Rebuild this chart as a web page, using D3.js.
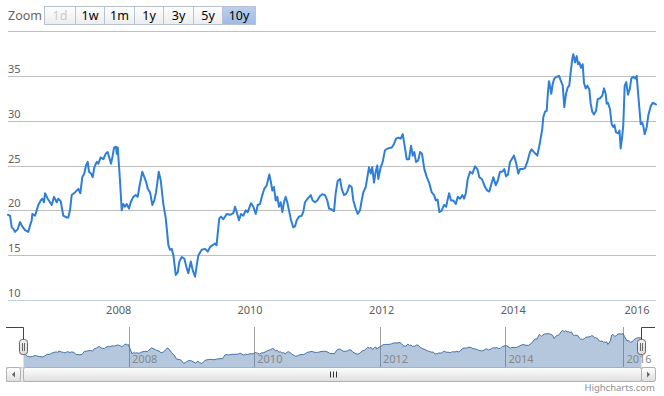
<!DOCTYPE html>
<html><head><meta charset="utf-8">
<script src="https://cdn.jsdelivr.net/npm/d3@7"></script>
<style>html,body{margin:0;padding:0;background:#fff;}svg{display:block;font-family:"Noto Sans",sans-serif;}</style>
</head><body><svg id="c" width="664" height="396"></svg>
<script>
// ---- data (decimal years, price) ----
const years = [
2006.316,2006.347,2006.373,2006.400,2006.423,2006.464,2006.499,2006.525,2006.575,2006.625,2006.651,2006.677,2006.686,2006.727,2006.753,2006.777,2006.814,2006.838,2006.864,2006.879,2006.920,2006.955,2006.981,
2007.016,2007.057,2007.081,2007.118,2007.157,2007.209,2007.233,2007.259,2007.285,2007.335,2007.361,2007.386,2007.416,2007.446,2007.477,2007.503,2007.529,2007.548,2007.579,2007.605,2007.629,2007.665,2007.690,2007.726,2007.766,2007.802,2007.833,2007.852,2007.883,2007.909,2007.929,2007.959,2007.970,2007.985,
2008.020,2008.046,2008.070,2008.096,2008.122,2008.157,2008.183,2008.222,2008.259,2008.289,2008.314,2008.359,2008.390,2008.420,2008.442,2008.477,2008.512,2008.542,2008.568,2008.588,2008.609,2008.640,2008.679,2008.716,2008.756,2008.781,2008.807,2008.832,2008.868,2008.899,2008.923,2008.960,2008.999,
2009.036,2009.060,2009.097,2009.127,2009.162,2009.188,2009.213,2009.264,2009.315,2009.356,2009.391,2009.426,2009.467,2009.490,2009.517,2009.532,2009.558,2009.593,2009.645,2009.695,2009.746,2009.772,2009.797,2009.832,2009.863,2009.898,2009.934,2009.965,
2010.015,2010.050,2010.087,2010.117,2010.152,2010.187,2010.217,2010.254,2010.293,2010.319,2010.339,2010.364,2010.390,2010.415,2010.440,2010.466,2010.491,2010.516,2010.542,2010.566,2010.592,2010.623,2010.658,2010.683,2010.709,2010.744,2010.785,2010.809,2010.835,2010.876,2010.922,2010.952,2010.987,
2011.022,2011.063,2011.098,2011.139,2011.174,2011.200,2011.241,2011.276,2011.301,2011.332,2011.367,2011.393,2011.428,2011.458,2011.484,2011.508,2011.544,2011.569,2011.605,2011.636,2011.670,2011.696,2011.721,2011.757,2011.787,2011.807,2011.833,2011.857,2011.883,2011.909,2011.933,2011.948,2011.985,
2012.015,2012.050,2012.091,2012.152,2012.187,2012.217,2012.252,2012.289,2012.319,2012.339,2012.380,2012.415,2012.445,2012.471,2012.495,2012.521,2012.556,2012.582,2012.612,2012.647,2012.684,2012.719,2012.760,2012.795,2012.821,2012.848,2012.875,2012.912,2012.947,2012.977,
2013.023,2013.053,2013.088,2013.125,2013.155,2013.190,2013.225,2013.251,2013.277,2013.307,2013.342,2013.377,2013.418,2013.453,2013.483,2013.520,2013.544,2013.570,2013.605,2013.635,2013.661,2013.696,2013.733,2013.763,2013.798,2013.833,2013.863,2013.889,2013.920,2013.950,2013.976,
2014.011,2014.044,2014.081,2014.108,2014.152,2014.189,2014.226,2014.270,2014.297,2014.335,2014.388,2014.432,2014.469,2014.485,2014.513,2014.540,2014.556,2014.577,2014.598,2014.614,2014.637,2014.663,2014.702,2014.739,2014.771,2014.799,2014.825,2014.852,2014.880,2014.905,2014.928,2014.954,2014.970,2014.998,
2015.025,2015.046,2015.067,2015.095,2015.122,2015.143,2015.171,2015.196,2015.229,2015.251,2015.277,2015.305,2015.337,2015.365,2015.402,2015.439,2015.466,2015.494,2015.510,2015.531,2015.563,2015.591,2015.617,2015.636,2015.660,2015.698,2015.717,2015.736,2015.757,2015.778,2015.801,2015.827,2015.854,2015.882,2015.908,2015.940,2015.972,2015.995,
2016.021,2016.060,2016.081,2016.102,2016.124,2016.157,2016.183,2016.222,2016.254,2016.286,2016.307
];
const values = [
19.5,19.4,18.1,17.9,17.6,17.9,18.7,18.3,17.8,17.6,18.3,18.9,19.6,19.4,20.0,20.6,21.1,21.3,20.9,21.9,21.3,20.9,20.6,
21.5,20.9,21.3,21.0,19.4,19.2,19.2,20.0,21.7,22.0,22.2,22.4,21.9,23.7,24.1,25.0,25.4,24.3,24.1,23.7,24.8,25.4,25.2,25.9,25.7,26.3,26.5,26.0,25.2,26.1,27.0,27.1,26.3,27.0,
23.3,20.0,20.7,20.4,20.7,20.2,20.9,21.5,21.7,21.5,22.6,24.3,23.7,23.1,22.4,22.0,20.6,21.1,22.0,23.1,24.3,23.3,20.7,19.1,16.1,15.6,15.7,15.0,12.8,13.1,14.3,14.8,14.6,
13.5,13.0,14.3,13.3,12.6,13.9,15.0,15.6,15.7,15.4,15.9,16.1,16.3,16.1,18.1,19.1,19.3,19.0,19.6,19.5,19.7,20.4,19.8,18.9,19.6,19.4,20.0,19.8,
20.8,20.4,19.6,20.6,20.7,21.7,22.4,22.8,24.0,23.1,22.2,22.6,21.1,21.5,20.4,20.9,19.8,20.9,21.5,20.9,20.0,18.9,18.1,18.2,18.9,19.3,19.4,19.8,20.9,21.3,21.7,21.1,20.9,
21.1,21.6,21.8,21.7,21.1,20.2,20.1,19.9,21.9,23.3,23.5,22.4,21.7,21.8,22.2,22.8,22.6,21.1,20.2,19.6,20.0,21.1,22.0,22.6,23.9,24.8,24.1,24.8,23.1,24.3,25.0,23.5,24.8,
25.4,26.7,26.9,27.0,27.4,28.0,28.1,28.0,28.5,27.6,25.7,25.7,27.2,26.1,26.5,25.4,25.6,26.5,26.3,24.6,23.7,23.1,22.0,21.7,21.1,21.2,19.8,20.0,20.6,20.4,
21.9,21.1,21.1,20.7,21.5,21.3,21.7,21.3,21.9,23.5,24.3,24.1,24.9,24.6,23.7,23.5,23.1,22.6,22.2,22.1,22.8,23.7,22.8,23.3,24.3,24.3,24.6,23.8,24.0,25.4,25.7,
26.1,25.3,24.1,24.6,24.6,24.7,25.4,26.5,26.8,26.5,26.1,27.6,29.1,30.4,31.0,31.1,32.8,34.4,33.7,33.0,34.1,34.7,34.9,35.0,34.4,33.9,31.5,33.0,33.7,33.9,35.4,36.9,37.4,36.5,
37.2,36.3,36.5,35.9,36.3,34.2,33.6,33.9,33.5,31.9,31.0,30.7,31.1,32.4,32.5,32.8,33.6,33.0,31.9,32.0,31.3,29.6,29.3,29.5,28.7,28.6,28.9,26.9,28.0,29.5,33.9,34.3,32.9,33.5,34.7,34.9,34.7,35.0,
32.8,29.6,29.8,29.4,28.5,29.3,30.6,31.6,32.0,31.9,31.8
];
const yTicks = [10, 15, 20, 25, 30, 35, 40];
const xTickYears = [2008, 2010, 2012, 2014, 2016];
const zoomButtons = ['1d', '1w', '1m', '1y', '3y', '5y', '10y'];
const selectedButton = '10y';
const disabledButton = '1d';

function toDate(d) {
  const y = Math.floor(d);
  const s = Date.UTC(y, 0, 1), e = Date.UTC(y + 1, 0, 1);
  return new Date(s + (d - y) * (e - s));
}
const data = years.map((y, i) => ({ date: toDate(y), value: values[i] }));

const svg = d3.select('#c');
const plot = { left: 8, right: 656, top: 31, bottom: 300 };
const nav = { left: 23.5, right: 641.5, top: 327, bottom: 367 };

// Highstock ordinal axis: year spacing is uneven, so use a polylinear time scale
const xDomain = [data[0].date, ...xTickYears.map(y => new Date(Date.UTC(y, 0, 1))), data[data.length - 1].date];
const xRange = [plot.left, 118.7, 250, 381.7, 513.3, 637, plot.right];
const x = d3.scaleUtc().domain(xDomain).range(xRange);
const y = d3.scaleLinear().domain([yTicks[0], yTicks[yTicks.length - 1]]).range([plot.bottom, plot.top]);

const k = (nav.right - nav.left) / (plot.right - plot.left);
const nx = d3.scaleUtc().domain(xDomain).range(xRange.map(r => nav.left + (r - plot.left) * k));
const ny = d3.scaleLinear().domain(y.domain()).range([nav.bottom, nav.top]);

const defs = svg.append('defs');
function grad(id, c1, c2) {
  const g = defs.append('linearGradient').attr('id', id).attr('x1', 0).attr('y1', 0).attr('x2', 0).attr('y2', 1);
  g.append('stop').attr('offset', '0%').attr('stop-color', c1);
  g.append('stop').attr('offset', '100%').attr('stop-color', c2);
}
grad('btn', '#ffffff', '#ececec');
grad('btnSel', '#bcd0ee', '#9dbbe4');
grad('sb', '#ffffff', '#dedede');
grad('hdl', '#f4f2f2', '#dedada');

// ---- range selector ----
svg.append('text').attr('x', 8).attr('y', 20).attr('font-size', 12.5).attr('fill', '#666').text('Zoom');
const btnWidths = [31, 29, 30, 29, 30, 29, 33];
let bx = 44;
zoomButtons.forEach((b, i) => {
  const w = btnWidths[i];
  const g = svg.append('g');
  g.append('rect').attr('x', bx + 0.5).attr('y', 6.5).attr('width', w).attr('height', 18)
    .attr('fill', b === selectedButton ? 'url(#btnSel)' : 'url(#btn)')
    .attr('stroke', '#b8c2d2').attr('stroke-width', 1);
  g.append('text').attr('x', bx + w / 2 + 0.5).attr('y', 20).attr('text-anchor', 'middle')
    .attr('font-size', 12.5).attr('fill', b === disabledButton ? '#cccccc' : '#000').text(b);
  bx += w;
});

// ---- main plot grid + axes ----
svg.append('g').selectAll('line').data(yTicks).join('line')
  .attr('x1', plot.left).attr('x2', plot.right)
  .attr('y1', d => Math.round(y(d)) + 0.5).attr('y2', d => Math.round(y(d)) + 0.5)
  .attr('stroke', d => d === yTicks[0] ? '#c0d0e0' : '#c0c0c0').attr('stroke-width', 1);

svg.append('g').selectAll('text').data(yTicks.slice(0, -1)).join('text')
  .attr('x', plot.left).attr('y', d => Math.round(y(d)) - 3)
  .attr('font-size', 11).attr('fill', '#606060').text(d => d);

svg.append('g').selectAll('text').data(xTickYears).join('text')
  .attr('x', d => x(new Date(Date.UTC(d, 0, 1)))).attr('y', 314)
  .attr('text-anchor', 'middle').attr('font-size', 11).attr('fill', '#606060').text(d => d);

svg.append('path').datum(data)
  .attr('d', d3.line().x(d => x(d.date)).y(d => y(d.value)))
  .attr('fill', 'none').attr('stroke', '#2f7ed8').attr('stroke-width', 2)
  .attr('stroke-linejoin', 'round').attr('stroke-linecap', 'round');

// ---- navigator ----
svg.append('g').selectAll('line').data(xTickYears).join('line')
  .attr('x1', d => Math.round(nx(new Date(Date.UTC(d, 0, 1)))) + 0.5)
  .attr('x2', d => Math.round(nx(new Date(Date.UTC(d, 0, 1)))) + 0.5)
  .attr('y1', nav.top).attr('y2', nav.bottom)
  .attr('stroke', '#a0a0a0').attr('stroke-width', 1);

svg.append('path').datum(data)
  .attr('d', d3.area().x(d => nx(d.date)).y0(nav.bottom).y1(d => ny(d.value)))
  .attr('fill', '#4572a7').attr('fill-opacity', 0.4);
svg.append('path').datum(data)
  .attr('d', d3.line().x(d => nx(d.date)).y(d => ny(d.value)))
  .attr('fill', 'none').attr('stroke', '#4572a7').attr('stroke-width', 1);

svg.append('g').selectAll('text').data(xTickYears).join('text')
  .attr('x', d => nx(new Date(Date.UTC(d, 0, 1))) + 3).attr('y', nav.bottom - 4)
  .attr('font-size', 11).attr('fill', '#888').text(d => d);

// outline
svg.append('path')
  .attr('d', `M6,${nav.top + 0.5}H${nav.left}V${nav.top + 13} M${nav.right},${nav.top + 13}V${nav.top + 0.5}H655`)
  .attr('fill', 'none').attr('stroke', '#444').attr('stroke-width', 1);

// ---- scrollbar ----
const sbY = nav.bottom + 0.5, sbH = 14;
svg.append('rect').attr('x', 6.5).attr('y', sbY).attr('width', 648).attr('height', sbH)
  .attr('fill', '#eeeeee').attr('stroke', '#cccccc');
svg.append('rect').attr('x', nav.left).attr('y', sbY).attr('width', nav.right - nav.left).attr('height', sbH)
  .attr('rx', 2).attr('fill', 'url(#sb)').attr('stroke', '#b0b0b0');
const gx = Math.round((nav.left + nav.right) / 2);
[-3, 0, 3].forEach(o => svg.append('line')
  .attr('x1', gx + o + 0.5).attr('x2', gx + o + 0.5).attr('y1', sbY + 4).attr('y2', sbY + 10)
  .attr('stroke', '#333').attr('stroke-width', 1));
[[6.5, -1], [nav.right, 1]].forEach(([bxx, dir]) => {
  svg.append('rect').attr('x', bxx).attr('y', sbY).attr('width', 14).attr('height', sbH)
    .attr('rx', 2).attr('fill', 'url(#sb)').attr('stroke', '#b0b0b0');
  const cx = bxx + 7, cy = sbY + 7;
  svg.append('path').attr('d', dir < 0
      ? `M${cx + 1.5},${cy - 3}L${cx - 1.5},${cy}L${cx + 1.5},${cy + 3}Z`
      : `M${cx - 1.5},${cy - 3}L${cx + 1.5},${cy}L${cx - 1.5},${cy + 3}Z`)
    .attr('fill', '#666');
});

// handles
[nav.left, nav.right].forEach(hx => {
  const g = svg.append('g');
  g.append('rect').attr('x', hx - 4).attr('y', 339.5).attr('width', 8).attr('height', 15)
    .attr('rx', 3).attr('fill', 'url(#hdl)').attr('stroke', '#666');
  [-1, 1].forEach(o => g.append('line').attr('x1', hx + o).attr('x2', hx + o)
    .attr('y1', 343).attr('y2', 351).attr('stroke', '#666'));
});

// credits
svg.append('text').attr('x', 655).attr('y', 391).attr('text-anchor', 'end')
  .attr('font-size', 9.5).attr('fill', '#909090').text('Highcharts.com');
</script></body></html>
